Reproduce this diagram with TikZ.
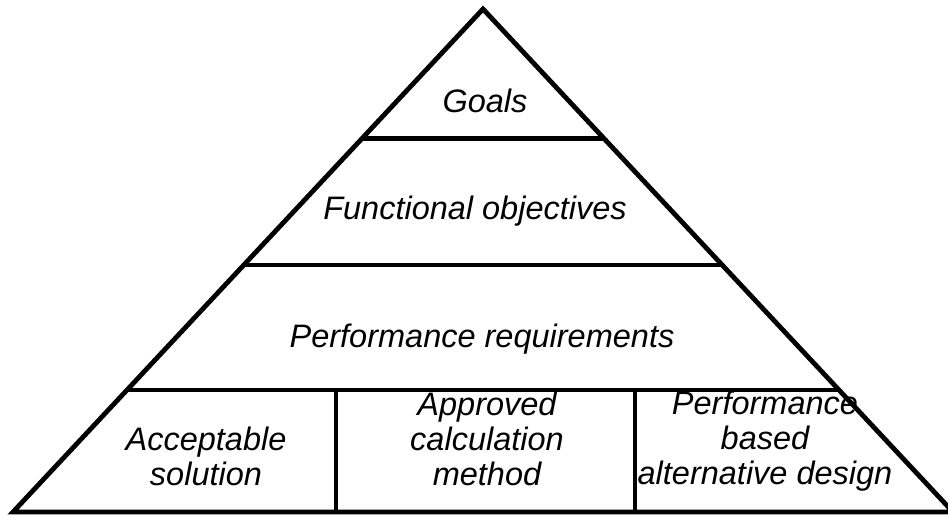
\documentclass[tikz,border=0pt]{standalone}
\usepackage{fontspec}
\setmainfont{Liberation Sans}
\begin{document}
\begin{tikzpicture}[x=1pt,y=-1pt,
  edge/.style={line width=4.8pt},
  lbl/.style={font=\fontsize{32.5}{35}\selectfont\itshape, align=center, inner sep=0pt}]
\useasboundingbox (0,0) rectangle (948,515);
\clip (0,0) rectangle (948,515);
\coordinate (apex) at (483,9);
\coordinate (bl) at (13,512);
\coordinate (br) at (953,512);
\draw[edge, line join=miter] (bl) -- (apex) -- (br) -- cycle;
% level lines
\coordinate (l1a) at (363,138.5);
\coordinate (l1b) at (604,138.5);
\coordinate (l2a) at (244,265);
\coordinate (l2b) at (722,265);
\coordinate (l3a) at (127,390);
\coordinate (l3b) at (839,390);
\draw[edge] (l1a) -- (l1b);
\draw[edge] (l2a) -- (l2b);
\draw[edge] (l3a) -- (l3b);
\coordinate (v1t) at (336,390);
\coordinate (v1b) at (336,512);
\coordinate (v2t) at (635,390);
\coordinate (v2b) at (635,512);
\draw[edge] (v1t) -- (v1b);
\draw[edge] (v2t) -- (v2b);
\node[lbl] (goals) at (485,101) {Goals};
\node[lbl] (func) at (475,211) {Functional objectives};
\node[lbl] (perf) at (482,339) {Performance requirements};
\node[lbl] (acc) at (206,456) {Acceptable\\solution};
\node[lbl] (appr) at (487,439) {Approved\\calculation\\method};
\node[lbl] (pbad) at (765,441) {Performance\\based\\alternative design};
\end{tikzpicture}
\end{document}
